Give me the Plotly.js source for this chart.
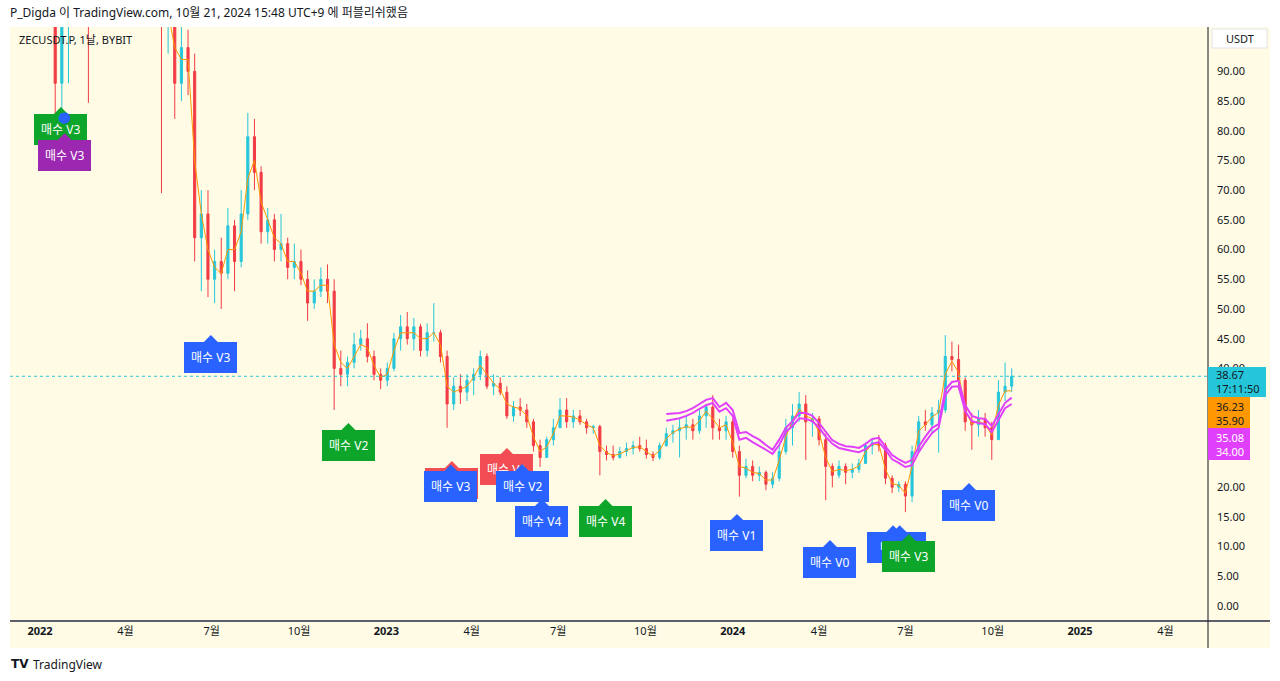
<!DOCTYPE html>
<html><head><meta charset="utf-8">
<script src="https://cdn.plot.ly/plotly-3.0.1.min.js"></script>
<style>html,body{margin:0;padding:0;background:#fff;}#chart{width:1280px;height:681px;}</style>
</head><body><div id="chart"></div>
<script>
// ---- Data (weekly candles, weeks starting 2022-01-17) ----
const firstWeek = '2022-01-17';
const open = [122,88,104,110,118,105,98,112,104,122,
 165,205,190,175,155,135,118,98,104,88,
 94,90,62,66,55,58,56,64,58,66,
 79,73,63,65,60,61,57,58,55,51,
 53,55,53,40,39,41,44,45,42,39,
 38,40,45,47,45,47,43,46,46,42,
 34,37,36,38,39,42,37,37.5,36,32,
 33.5,33,31,27,25,28,30,33,31,32,
 31,30,30.2,26,25.5,25,26,26.5,27,26.5,
 25.5,25,27,29,29.5,30,30.5,29.5,32,33.5,
 30,29.5,31,26,22,23.5,22,22.5,20.5,21.5,
 26,30,32,34,31,31.5,28,23.5,22,23.5,
 22.5,23,24,27,27.5,27,21.5,20,20.5,18.5,
 26,31,30.5,32.5,33,42,41.5,38,31,30.5,
 31.5,30,28,36,37];
const high = [130,108,115,125,120,112,118,118,125,170,
 215,250,210,190,165,150,125,112,108,98,
 97,93,70,70,60,62,67,65,70,83,
 82,74,67,66,66,62,61,60,56.5,55,
 57,57.5,55,43,42,46,46.5,47.6,43,40,
 41,46,49,49.5,48.5,47.5,47.6,51,46.5,43,
 38.5,39,39,40,43,42.5,39,38.5,37,34.5,
 35,34,31.5,28,28.5,31.5,35,35,33,33,
 31.5,30.5,30.5,27,27,26.8,27.5,27.8,28.5,28,
 26,27.5,30,30.5,31.5,32,31.5,33,34,35.5,
 31.5,32,31.5,27,24.8,24.5,23.5,22.8,22.5,27,
 31.5,34,36,35.5,32.5,32,29,24,24.5,24,
 24,24.8,27.5,28,28.8,27.5,22,21,21,27,
 32,33,33.5,34.7,45.6,44.5,44,38.5,32.5,33,
 32.5,31,38,41,40];
const low = [82,83,88,105,100,84.7,98,100,101,118,
 160,180,160,150,130,110,69.5,93,82,85,
 86,58,53,52,51,50,55,53,57,65,
 70,61,61,58,58,55,55,54,48,50,
 52,51,33,37,37,40,43,41,38,36.5,
 37,39.5,43,44,43,42,42,44.5,41,30,
 33,34,34.5,35.5,38,36.5,35.5,35.5,31.5,31,
 32,30,26,23.4,25,27,30,30,30,30.5,
 29,29,22,24.5,24.5,24.8,25.2,25.5,26,24.8,
 24.4,24.6,26.8,27.5,25,28,28,29,30,28,
 28,28,25,18.4,21.5,21,21,19.5,19.8,21,
 25.5,27,31,24.6,28.5,27,17.8,20,21.5,20.5,
 21.5,22.4,24,25.5,26,20.5,19,19.2,15.8,17.5,
 26,29.5,29,25.8,32.5,39.5,36.5,29.5,26.3,28.5,
 28.5,24.6,28,34.5,36];
const close = [88,104,110,118,105,98,112,104,122,165,
 205,190,175,155,135,118,98,104,88,94,
 90,62,66,55,58,56,64,58,66,79,
 73,63,65,60,61,57,58,55,51,53,
 55,53,40,39,41,44,45,42,39,38,
 40,45,47,45,47,43,46,46,42,34,
 37,36,38,39,42,37,37.5,36,32,33.5,
 33,31,27,25,28,30,33,31,32,31,
 30,30.2,26,25.5,25,26,26.5,27,26.5,25.5,
 25,27,29,29.5,30,30.5,29.5,32,33.5,30,
 29.5,31,26,22,23.5,22,22.5,20.5,21.5,26,
 30,32,34,31,31.5,28,23.5,22,23.5,22.5,
 23,24,27,27.5,27,21.5,20,20.5,18.5,26,
 31,30.5,32.5,33,42,41.5,38,31,30.5,31.5,
 30,28,36,37,38.67];
// orange moving-average line
const maOrange = [115,100,102,110,110,102,104,106,112,140,
 180,195,185,168,148,128,108,100,94,92,
 92,75,66,60,57,56,60,60,63,72,
 75,68,65,62,61,58,58,56,53,53,
 54,54,44,41,40,42,44,43.5,40.5,38.5,
 39,43,46,46,46,45,45,46,44,37,
 36,36.5,37,38.5,40.5,39,37.5,36.5,34,33.5,
 33.2,32,28.5,26,26.8,29,32,32,31.8,31.3,
 30.5,30,27,25.8,25.3,25.6,26.2,26.7,26.8,26,
 25.2,26.2,28.2,29.2,29.8,30.2,30,31.2,32.8,31.5,
 30,30.5,27.5,23.5,23.2,22.5,22.3,21.2,21.2,24.5,
 28.5,31.2,33.2,32,31.5,29.2,25,22.6,23,22.8,
 23,23.6,26,27.2,27.2,23,20.6,20.3,19,23.5,
 29.5,30.5,31.8,32.6,39,41.2,39.3,33,30.6,31.2,
 30.5,28.8,33.8,36.2,36.23];
// magenta band (starts at week index 92)
const bandStart = 92;
const bandUpper = [32.3,32.4,32.5,32.8,33.3,34.0,34.7,35.0,33.5,34.2,
 33.0,29.1,29.3,28.6,28.0,27.1,26.3,28.0,30.0,31.1,
 32.5,32.5,32.0,30.8,29.3,27.9,27.3,26.9,26.8,26.6,
 27.3,28.1,28.3,26.9,25.4,24.7,24.1,24.6,26.8,28.5,
 30.0,30.6,36.4,37.7,37.9,33.8,32.0,31.6,31.5,30.3,
 32.3,34.2,35.08];
const bandLower = [31.2,31.4,31.6,32.0,32.5,33.2,33.8,34.2,32.7,33.3,
 32.0,28.0,28.3,27.6,27.0,26.3,25.6,27.1,29.3,30.3,
 31.6,31.5,31.1,30.0,28.5,27.3,26.6,26.3,26.1,25.9,
 26.4,27.3,27.6,26.3,24.7,24.1,23.4,23.7,25.9,27.6,
 29.1,30.0,35.5,36.9,37.0,32.8,31.1,30.8,30.6,29.3,
 31.3,33.3,34.0];
// signal labels
const labelDates = ['2022-01-23','2022-01-27','2022-06-30','2022-11-22','2023-03-11','2023-03-10','2023-05-08','2023-05-24','2023-06-14','2023-08-20','2024-01-05 12:00','2024-04-12 12:00','2024-06-18','2024-06-25','2024-07-04 17:00','2024-09-06'];
const labelTips = [84.0,79.6,45.6,30.8,24.4,23.8,26.6,23.9,18.0,18.0,15.5,11.1,13.6,13.6,12.1,20.7];
const labelTexts = ['매수 V3','매수 V3','매수 V3','매수 V2','매수 V1','매수 V3','매수 V1','매수 V2','매수 V4','매수 V4','매수 V1','매수 V0','매수 V3','매수 V3','매수 V3','매수 V0'];
const labelKinds = ['green','purple','blue','green','red','blue','red','blue','blue','green','blue','blue','blue','blue','green','blue'];
const dotDate = '2022-01-27', dotPrice = 82.3;
const lastPrice = 38.67, lastTime = '17:11:50';
const orangeVals = ['36.23','35.90'], magentaVals = ['35.08','34.00'];
const xTickDates = ['2022-01-01','2022-04-01','2022-07-01','2022-10-01','2023-01-01','2023-04-01','2023-07-01','2023-10-01','2024-01-01','2024-04-01','2024-07-01','2024-10-01','2025-01-01','2025-04-01'];
const xTickText = ['<b>2022</b>','4월','7월','10월','<b>2023</b>','4월','7월','10월','<b>2024</b>','4월','7월','10월','<b>2025</b>','4월'];
// 25/30/35 are hidden behind the price badges in the reference
const yTicks = [0,5,10,15,20,40,45,50,55,60,65,70,75,80,85,90];

// ---- build ----
const dates = open.map((_, i) => {
  const d = new Date(Date.parse(firstWeek + 'T00:00:00Z') + i * 7 * 86400000);
  return d.toISOString().slice(0, 10);
});
const bandDates = dates.slice(bandStart);
const F = "'Noto Sans', 'Noto Sans CJK KR', sans-serif";
const COL = {green:'#0ea52b', purple:'#9c27b0', blue:'#2962ff', red:'#f24d55'};

const traces = [
  {type:'candlestick', x:dates, open:open, high:high, low:low, close:close,
   increasing:{line:{color:'#26c6da', width:1}, fillcolor:'#26c6da'},
   decreasing:{line:{color:'#f23b45', width:1}, fillcolor:'#f23b45'},
   whiskerwidth:0, hoverinfo:'skip'},
  {type:'scatter', mode:'lines', x:dates, y:maOrange, line:{color:'#ff9800', width:1}, hoverinfo:'skip'},
  {type:'scatter', mode:'lines', x:bandDates, y:bandUpper, line:{color:'#e040fb', width:2}, hoverinfo:'skip'},
  {type:'scatter', mode:'lines', x:bandDates, y:bandLower, line:{color:'#e040fb', width:2}, hoverinfo:'skip'}
];

// pixel -> paper helpers for layout decoration
const L0 = 10, R0 = 1208, T0 = 27, B0 = 620;
const px = v => (v - L0) / (R0 - L0);
const py = v => (B0 - v) / (B0 - T0);

const shapes = [
  {type:'rect', xref:'paper', yref:'paper', x0:px(1208), x1:px(1270), y0:py(648), y1:py(27), fillcolor:'#fffbe5', line:{width:0}, layer:'below'},
  {type:'rect', xref:'paper', yref:'paper', x0:px(10), x1:px(1208), y0:py(648), y1:py(620), fillcolor:'#fffbe5', line:{width:0}, layer:'below'},
  {type:'line', xref:'paper', yref:'y', x0:0, x1:1, y0:lastPrice, y1:lastPrice, line:{color:'#26c6da', width:1, dash:'dot'}},
  {type:'line', xref:'paper', yref:'paper', x0:px(10), x1:px(1270), y0:py(621), y1:py(621), line:{color:'#5d606b', width:2}},
  {type:'line', xref:'paper', yref:'paper', x0:1, x1:1, y0:py(648), y1:py(27), line:{color:'#131722', width:1}},
  {type:'rect', xref:'paper', yref:'paper', x0:px(1212), x1:px(1267), y0:py(48), y1:py(29), fillcolor:'#ffffff', line:{color:'#e0e3eb', width:1}, layer:'above'},
  {type:'rect', xref:'paper', yref:'paper', x0:px(1208), x1:px(1266), y0:py(397), y1:py(367), fillcolor:'#26c6da', line:{width:0}, layer:'above'},
  {type:'rect', xref:'paper', yref:'paper', x0:px(1208), x1:px(1250), y0:py(428), y1:py(397), fillcolor:'#ff9800', line:{width:0}, layer:'above'},
  {type:'rect', xref:'paper', yref:'paper', x0:px(1208), x1:px(1250), y0:py(460), y1:py(428), fillcolor:'#e040fb', line:{width:0}, layer:'above'}
];

const anns = [];
labelTexts.forEach((t, k) => {
  const c = COL[labelKinds[k]];
  anns.push({x:labelDates[k], y:labelTips[k], xref:'x', yref:'y', text:t,
    showarrow:true, arrowhead:1, arrowsize:1.2, arrowwidth:2, arrowcolor:c, ax:0, ay:22,
    bgcolor:c, bordercolor:c, borderwidth:0, borderpad:7,
    font:{family:F, size:12, color:'#ffffff'}});
});
anns.push({x:dotDate, y:dotPrice, xref:'x', yref:'y', text:'●', showarrow:false,
  font:{family:'DejaVu Sans', size:15, color:'#2962ff'}});
// header / titles
anns.push({xref:'paper', yref:'paper', x:px(8), y:py(13), xanchor:'left', yanchor:'middle', showarrow:false,
  text:'P_Digda 이 TradingView.com, 10월 21, 2024 15:48 UTC+9 에 퍼블리쉬했음', font:{family:F, size:12, color:'#131722'}});
anns.push({xref:'paper', yref:'paper', x:px(17), y:py(40), xanchor:'left', yanchor:'middle', showarrow:false,
  text:'ZECUSDT.P, 1날, BYBIT', font:{family:F, size:11, color:'#131722'}});
anns.push({xref:'paper', yref:'paper', x:px(1240), y:py(39), xanchor:'center', yanchor:'middle', showarrow:false,
  text:'USDT', font:{family:F, size:11, color:'#131722'}});
anns.push({xref:'paper', yref:'paper', x:px(1214), y:py(382), xanchor:'left', yanchor:'middle', align:'left', showarrow:false,
  text:lastPrice.toFixed(2) + '<br>' + lastTime, font:{family:F, size:11, color:'#131722'}});
anns.push({xref:'paper', yref:'paper', x:px(1214), y:py(413), xanchor:'left', yanchor:'middle', align:'left', showarrow:false,
  text:orangeVals.join('<br>'), font:{family:F, size:11, color:'#131722'}});
anns.push({xref:'paper', yref:'paper', x:px(1214), y:py(444), xanchor:'left', yanchor:'middle', align:'left', showarrow:false,
  text:magentaVals.join('<br>'), font:{family:F, size:11, color:'#ffffff'}});
// footer
anns.push({xref:'paper', yref:'paper', x:px(9), y:py(664), xanchor:'left', yanchor:'middle', showarrow:false,
  text:'<b>TV</b>', font:{family:'DejaVu Sans', size:12, color:'#131722'}});
anns.push({xref:'paper', yref:'paper', x:px(31), y:py(664), xanchor:'left', yanchor:'middle', showarrow:false,
  text:'TradingView', font:{family:F, size:12, color:'#131722'}});

const layout = {
  width:1280, height:681,
  margin:{l:L0, r:1280 - R0, t:T0, b:681 - B0, pad:0},
  paper_bgcolor:'#ffffff', plot_bgcolor:'#fffbe5',
  showlegend:false, hovermode:false, dragmode:false, boxgap:0.55,
  font:{family:F, size:11, color:'#131722'},
  xaxis:{type:'date', range:['2021-11-30 09:00','2025-05-15 21:00'], rangeslider:{visible:false},
    showgrid:false, zeroline:false, showline:false, ticks:'', tickvals:xTickDates, ticktext:xTickText,
    tickangle:0, ticklabelstandoff:3, tickfont:{family:F, size:11, color:'#131722'}, fixedrange:true},
  yaxis:{side:'right', range:[-2.36, 97.47], tickvals:yTicks, ticktext:yTicks.map(v => v.toFixed(2)),
    showgrid:false, zeroline:false, showline:false, ticks:'', ticklabelstandoff:8,
    tickfont:{family:F, size:11, color:'#131722'}, fixedrange:true},
  shapes:shapes, annotations:anns
};
Plotly.newPlot('chart', traces, layout, {displayModeBar:false, staticPlot:true});
</script></body></html>
